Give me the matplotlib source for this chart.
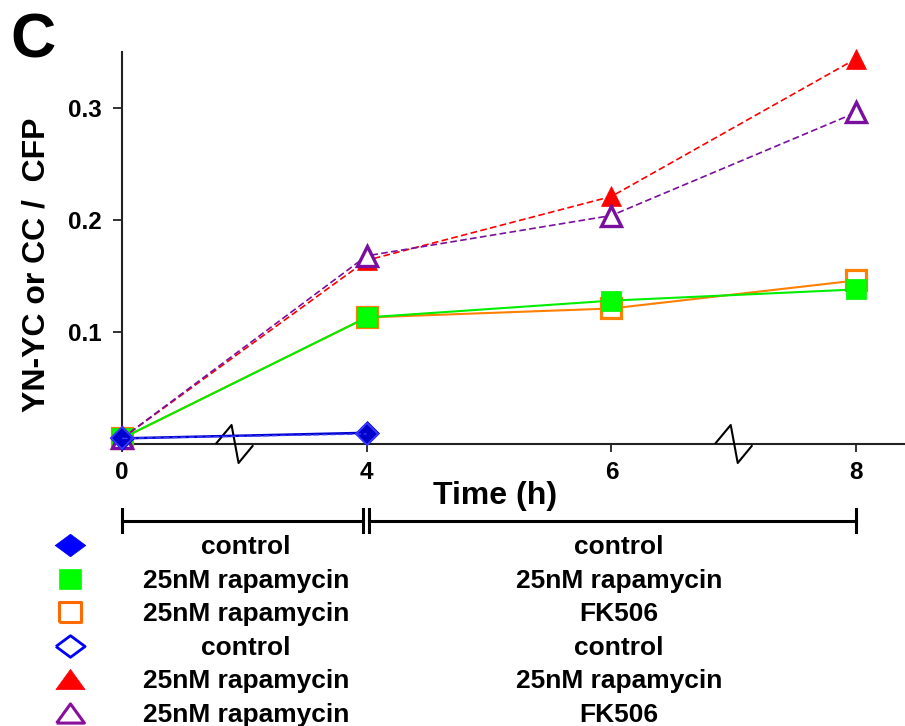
import matplotlib
matplotlib.use("Agg")
import matplotlib.pyplot as plt
import numpy as np

plt.rcParams['font.family'] = ['Liberation Sans', 'DejaVu Sans']
plt.rcParams['font.weight'] = 'bold'

# time points (h), plotted at evenly spaced positions (broken axis)
times = ["0", "4", "6", "8"]

# YN-YC or CC / CFP ratios
yn_control = [0.005, 0.010]
yn_rapa_rapa = [0.005, 0.113, 0.128, 0.138]
yn_rapa_fk = [0.005, 0.113, 0.121, 0.146]
cc_control = [0.005, 0.009]
cc_rapa_rapa = [0.005, 0.164, 0.221, 0.344]
cc_rapa_fk = [0.005, 0.168, 0.204, 0.296]

# legend text: first treatment (0-4 h) and second treatment (4-8 h)
first_treat = ["control", "25nM rapamycin", "25nM rapamycin",
               "control", "25nM rapamycin", "25nM rapamycin"]
second_treat = ["control", "25nM rapamycin", "FK506",
                "control", "25nM rapamycin", "FK506"]

W, H = 905, 726
fig = plt.figure(figsize=(W / 100, H / 100), dpi=100)
ax = fig.add_axes([122 / W, 1 - 444 / H, 783 / W, 392 / H])

pos = np.arange(len(times))

# series styles: (values, color, linestyle, lw, marker, size, face, edge width, zorder)
series = [
    (yn_rapa_fk, '#FF7F00', '-', 1.5, 's', 14, 'white', 2.3, 3),
    (yn_rapa_rapa, '#00EE00', '-', 1.5, 's', 14, '#00FF00', 0.5, 4),
    (cc_rapa_rapa, '#FF0000', '--', 1.2, '^', 14.5, '#FF0000', 0.5, 5),
    (cc_rapa_fk, '#7A0E9E', '--', 1.2, '^', 14, 'white', 2.4, 6),
    (yn_control, '#0000CC', '-', 1.8, 'D', 12.5, '#0000CC', 0.5, 7),
    (cc_control, '#3A3AFF', '--', 1.0, 'D', 11.5, 'none', 1.3, 8),
]
for vals, col, ls, lw, mk, ms, face, mew, z in series:
    ax.plot(pos[:len(vals)], vals, color=col, linestyle=ls, linewidth=lw,
            marker=mk, markersize=ms, markerfacecolor=face,
            markeredgecolor=col, markeredgewidth=mew, zorder=z,
            clip_on=False, dashes=(4, 2) if ls == '--' else (None, None))

ax.set_xlim(0, 3.2)
ax.set_ylim(0, 0.35)
for s in ['top', 'right']:
    ax.spines[s].set_visible(False)
for s in ['left', 'bottom']:
    ax.spines[s].set_linewidth(1.5)
    ax.spines[s].set_color('#222222')

ax.set_xticks(pos)
ax.set_xticklabels(times)
ax.set_yticks([0.1, 0.2, 0.3])
ax.set_yticklabels(["0.1", "0.2", "0.3"])
ax.tick_params(axis='y', direction='out', length=6.5, width=1.3, pad=8,
               labelsize=17.5, color='#222222')
ax.tick_params(axis='x', direction='out', length=6, width=1.3, pad=6,
               labelsize=17.5, color='#222222')

# axis break marks
sx = 783 / 3.2
sy = 392 / 0.35
zx = np.array([-18, -3, 4, 18]) / sx
zy = np.array([1, 19, -19, -2]) / sy
for xb in [0.46, 2.5]:
    ax.plot([xb - 18 / sx, xb + 18 / sx], [0, 0], color='white', lw=3,
            clip_on=False, zorder=2.5)
    ax.plot(xb + zx, zy, color='black', lw=1.5, clip_on=False, zorder=2.6)

ax.set_xlabel("Time (h)", fontsize=23, fontweight='bold')
ax.xaxis.set_label_coords(0.476, -0.095)
ax.set_ylabel("YN-YC or CC /  CFP", fontsize=23, fontweight='bold')
ax.yaxis.set_label_coords(-0.09, 0.457)

fig.text(10 / W, 1 - 12 / H, "C", fontsize=45, fontweight='bold',
         ha='left', va='top')

# legend / treatment table below the plot
lg = fig.add_axes([122 / W, 0, 783 / W, 226 / H])
lg.set_xlim(0, 3.2)
lg.set_ylim(5.39, -1.34)
lg.axis('off')

# treatment period brackets
by = -0.71
for x0, x1 in [(0, 0.985), (1.01, 3.0)]:
    lg.plot([x0, x1], [by, by], color='black', lw=2.2, clip_on=False)
    for xe in (x0, x1):
        lg.plot([xe, xe], [by - 0.36, by + 0.33], color='black', lw=2.2,
                clip_on=False)

diamond = [(-1, 0), (0, 0.74), (1, 0), (0, -0.74), (-1, 0)]
square = [(-1, -0.87), (1, -0.87), (1, 0.87), (-1, 0.87), (-1, -0.87)]
triangle = [(-1, -0.69), (1, -0.69), (0, 0.69), (-1, -0.69)]
leg_markers = [
    (diamond, 22, '#0000FF', '#0000FF', 0.5),
    (square, 16.5, '#00FF00', '#00FF00', 0.5),
    (square, 16, 'white', '#FF6A00', 2.2),
    (diamond, 21, 'white', '#0000FF', 2.0),
    (triangle, 21, '#FF0000', '#FF0000', 0.5),
    (triangle, 20, 'white', '#8A0E9E', 2.2),
]
mx = -0.213
for i, (mk, ms, face, edge, mew) in enumerate(leg_markers):
    lg.plot([mx], [i], marker=mk, markersize=ms, markerfacecolor=face,
            markeredgecolor=edge, markeredgewidth=mew, linestyle='none',
            clip_on=False)
    lg.text(0.507, i + 0.06, first_treat[i], ha='center', va='center',
            fontsize=19, fontweight='bold')
    lg.text(2.03, i + 0.06, second_treat[i], ha='center', va='center',
            fontsize=19, fontweight='bold')

fig.savefig("out.png", dpi=100)
